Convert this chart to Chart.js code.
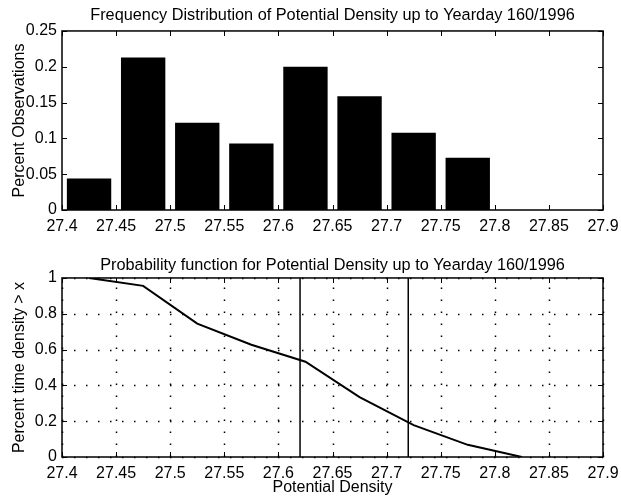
<!DOCTYPE html>
<html>
<head>
<meta charset="utf-8">
<script src="https://cdn.jsdelivr.net/npm/chart.js@4"></script>
<style>
  body { margin: 0; background: #fff; }
  #wrap { position: relative; width: 621px; height: 497px; }
  canvas { position: absolute; left: 0; }
  #freqChart { top: 0; }
  #probChart { top: 240px; }
</style>
</head>
<body>
<div id="wrap">
  <canvas id="freqChart" width="621" height="240"></canvas>
  <canvas id="probChart" width="621" height="257"></canvas>
</div>
<script>
// dados
const binCenters = [27.425, 27.475, 27.525, 27.575, 27.625, 27.675, 27.725, 27.775, 27.825, 27.875];
const percentObs = [0.044, 0.213, 0.122, 0.093, 0.200, 0.159, 0.108, 0.073, 0, 0];

const probX = [27.425, 27.475, 27.525, 27.575, 27.625, 27.675, 27.725, 27.775, 27.825];
const probY = [1.0, 0.956, 0.745, 0.627, 0.532, 0.335, 0.178, 0.068, 0.0];

const markerX = [27.62, 27.72];

const xTicks = [27.4, 27.45, 27.5, 27.55, 27.6, 27.65, 27.7, 27.75, 27.8, 27.85, 27.9];
const freqTicks = [0, 0.05, 0.1, 0.15, 0.2, 0.25];
const probTicks = [0, 0.2, 0.4, 0.6, 0.8, 1];

const FONT = '"Liberation Sans", Arial, Helvetica, sans-serif';
const fmt = v => String(Number(v.toFixed(3)));

// caixa estilo matlab: moldura, marcas para dentro e grade pontilhada
const matlabAxes = {
    id: 'matlabAxes',
    beforeDatasetsDraw(chart, args, opts) {
        if (!opts.grid) return;
        const { ctx, chartArea: a, scales: { x, y } } = chart;
        ctx.save();
        ctx.strokeStyle = '#000';
        ctx.lineWidth = 1.5;
        ctx.setLineDash([1.5, 10.5]);
        x.ticks.forEach(t => {
            const px = Math.round(x.getPixelForValue(t.value)) + 0.5;
            ctx.beginPath(); ctx.moveTo(px, a.bottom); ctx.lineTo(px, a.top); ctx.stroke();
        });
        y.ticks.forEach(t => {
            const py = Math.round(y.getPixelForValue(t.value)) + 0.5;
            ctx.beginPath(); ctx.moveTo(a.left, py); ctx.lineTo(a.right, py); ctx.stroke();
        });
        ctx.restore();
    },
    afterDatasetsDraw(chart) {
        const { ctx, chartArea: a, scales: { x, y } } = chart;
        const len = 5;
        ctx.save();
        ctx.strokeStyle = '#000';
        ctx.lineWidth = 1.5;
        ctx.strokeRect(a.left, a.top, a.right - a.left, a.bottom - a.top);
        ctx.lineWidth = 1;
        ctx.beginPath();
        x.ticks.forEach(t => {
            const px = Math.round(x.getPixelForValue(t.value)) + 0.5;
            ctx.moveTo(px, a.bottom); ctx.lineTo(px, a.bottom - len);
            ctx.moveTo(px, a.top); ctx.lineTo(px, a.top + len);
        });
        y.ticks.forEach(t => {
            const py = Math.round(y.getPixelForValue(t.value)) + 0.5;
            ctx.moveTo(a.left, py); ctx.lineTo(a.left + len, py);
            ctx.moveTo(a.right, py); ctx.lineTo(a.right - len, py);
        });
        ctx.stroke();
        ctx.restore();
    }
};

function xScale(height, title) {
    return {
        type: 'linear',
        min: 27.4,
        max: 27.9,
        offset: false,
        grid: { display: false, drawTicks: false },
        border: { display: false },
        afterBuildTicks: s => { s.ticks = xTicks.map(v => ({ value: v })); },
        afterFit: s => { s.height = height; s.paddingLeft = 0; s.paddingRight = 0; },
        ticks: {
            autoSkip: false, maxRotation: 0, padding: 7, color: '#000',
            font: { family: FONT, size: 16 },
            callback: v => fmt(v)
        },
        title: title ? {
            display: true, text: title, color: '#000', padding: { top: 5, bottom: 0 },
            font: { family: FONT, size: 16 }
        } : { display: false }
    };
}

function yScale(max, ticks, title) {
    return {
        min: 0,
        max: max,
        grid: { display: false, drawTicks: false },
        border: { display: false },
        afterBuildTicks: s => { s.ticks = ticks.map(v => ({ value: v })); },
        afterFit: s => { s.width = 62; s.paddingTop = 0; s.paddingBottom = 0; },
        ticks: {
            padding: 5, color: '#000',
            font: { family: FONT, size: 16 },
            callback: v => fmt(v)
        },
        title: {
            display: true, text: title, color: '#000', padding: { top: 10, bottom: 0 },
            font: { family: FONT, size: 16 }
        }
    };
}

function titleOpts(text, top, bottom) {
    return {
        display: true,
        text: text,
        fullSize: false,
        color: '#000',
        font: { family: FONT, size: 16.3, weight: 'normal', lineHeight: 1.2 },
        padding: { top: top, bottom: bottom }
    };
}

new Chart(document.getElementById('freqChart'), {
    type: 'bar',
    data: {
        datasets: [{
            data: binCenters.map((x, i) => ({ x: x, y: percentObs[i] })),
            backgroundColor: '#000',
            borderWidth: 0,
            barPercentage: 0.82,
            categoryPercentage: 1
        }]
    },
    options: {
        responsive: false,
        animation: false,
        layout: { padding: { left: 0, right: 18, top: 0, bottom: 0 } },
        scales: {
            x: xScale(30, null),
            y: yScale(0.25, freqTicks, 'Percent Observations')
        },
        plugins: {
            legend: { display: false },
            tooltip: { enabled: false },
            title: titleOpts('Frequency Distribution of Potential Density up to Yearday 160/1996', 6, 5.4),
            matlabAxes: { grid: false }
        }
    },
    plugins: [matlabAxes]
});

new Chart(document.getElementById('probChart'), {
    type: 'line',
    data: {
        datasets: [
            {
                data: probX.map((x, i) => ({ x: x, y: probY[i] })),
                borderColor: '#000', borderWidth: 2, pointRadius: 0, tension: 0, fill: false
            },
            {
                data: [{ x: markerX[0], y: 0 }, { x: markerX[0], y: 1 }],
                borderColor: '#000', borderWidth: 1.5, pointRadius: 0, fill: false
            },
            {
                data: [{ x: markerX[1], y: 0 }, { x: markerX[1], y: 1 }],
                borderColor: '#000', borderWidth: 1.5, pointRadius: 0, fill: false
            }
        ]
    },
    options: {
        responsive: false,
        animation: false,
        layout: { padding: { left: 0, right: 18, top: 0, bottom: 0 } },
        scales: {
            x: xScale(40, 'Potential Density'),
            y: yScale(1, probTicks, 'Percent time density > x')
        },
        plugins: {
            legend: { display: false },
            tooltip: { enabled: false },
            title: titleOpts('Probability function for Potential Density up to Yearday 160/1996', 16, 2.4),
            matlabAxes: { grid: true }
        }
    },
    plugins: [matlabAxes]
});
</script>
</body>
</html>
